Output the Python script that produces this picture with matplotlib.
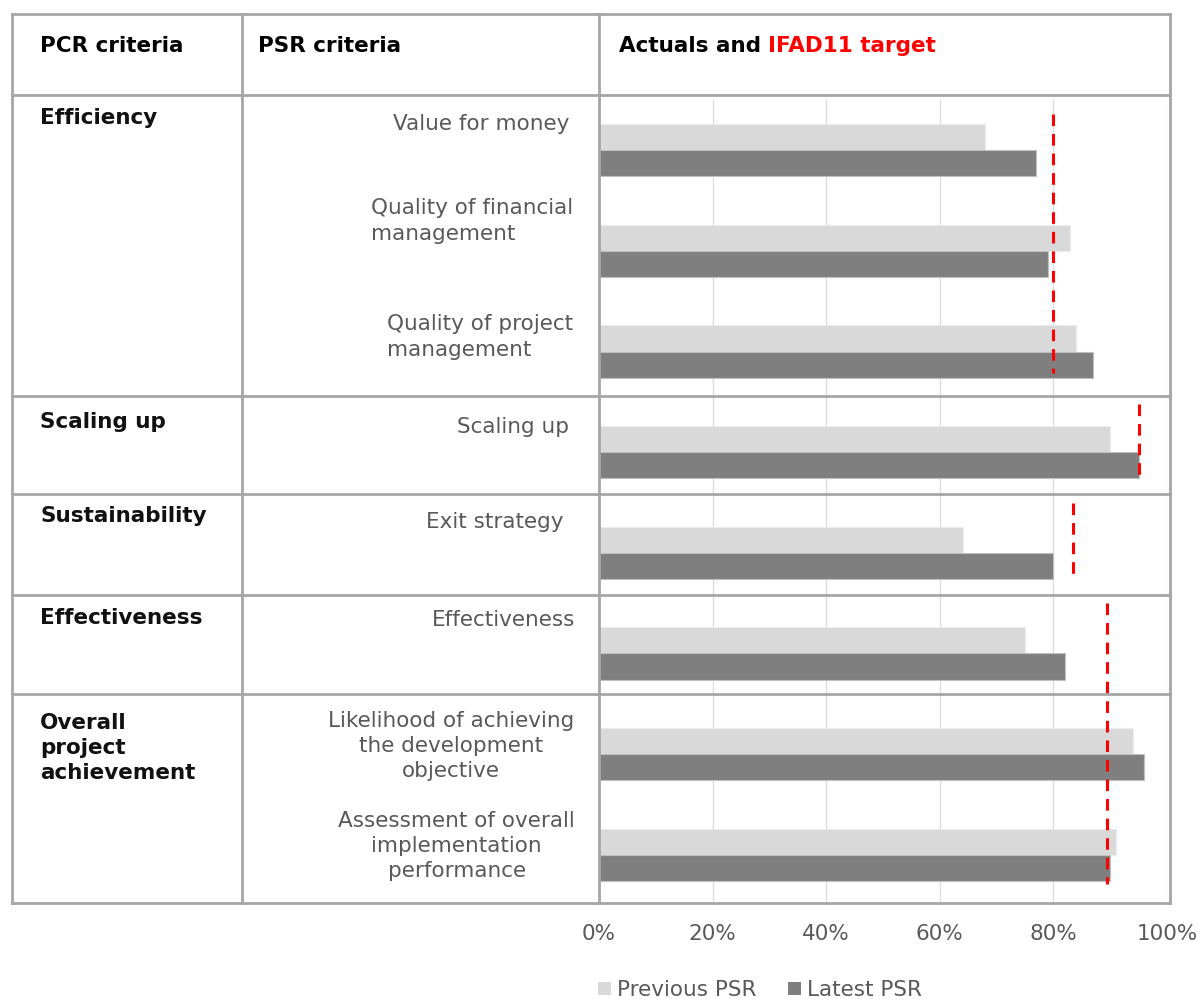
import matplotlib
matplotlib.use("Agg")
import matplotlib.pyplot as plt
from matplotlib.patches import Patch

plt.rcParams["font.family"] = ["DejaVu Sans"]

# PSR criteria, top to bottom
criteria = [
    "Value for money",
    "Quality of financial\nmanagement",
    "Quality of project\nmanagement",
    "Scaling up",
    "Exit strategy",
    "Effectiveness",
    "Likelihood of achieving\nthe development\nobjective",
    "Assessment of overall\nimplementation\nperformance",
]
previous_psr = [68, 83, 84, 90, 64, 75, 94, 91]
latest_psr = [77, 79, 87, 95, 80, 82, 96, 90]

# PCR groups
pcr_groups = ["Efficiency", "Scaling up", "Sustainability", "Effectiveness",
              "Overall\nproject\nachievement"]

# IFAD11 targets, each spanning a range of criteria
target_values = [80, 95, 83.5, 89.5]
target_first = [0, 3, 4, 5]
target_last = [2, 3, 4, 7]

xticks = [0, 20, 40, 60, 80, 100]

W, H = 1200, 1001
fig = plt.figure(figsize=(W / 100, H / 100), dpi=100)

GREY_TXT = "#595959"
LINE = "#a6a6a6"
FS = 15.5

# bar chart placed in the right-hand column (pixel layout)
ax_l, ax_r, ax_t, ax_b = 599, 1167, 100, 905
ax = fig.add_axes([ax_l / W, 1 - ax_b / H, (ax_r - ax_l) / W, (ax_b - ax_t) / H])
n = len(criteria)
idx = list(range(n))
h = 0.26
ax.barh([i - h / 2 for i in idx], previous_psr, height=h, color="#d9d9d9",
        edgecolor="#ececec", linewidth=0.8, zorder=2)
ax.barh([i + h / 2 for i in idx], latest_psr, height=h, color="#7f7f7f",
        edgecolor="#bfbfbf", linewidth=0.8, zorder=2)

# dashed target markers
top_off = [-0.36, -0.48, -0.5, -0.5]
bot_off = [0.21, 0.27, 0.25, 0.29]
for v, a, b, t0, b0 in zip(target_values, target_first, target_last, top_off, bot_off):
    ax.vlines(v, a + t0, b + b0, colors="#ff0000", linewidth=2.2,
              linestyles=(0, (3.8, 2.6)), zorder=3)

ax.set_xlim(0, 100)
ax.set_ylim(n - 0.5, -0.5)
ax.set_yticks([])
ax.set_xticks(xticks)
ax.set_xticklabels([f"{v}%" for v in xticks], fontsize=FS, color=GREY_TXT)
ax.tick_params(axis="x", length=0, pad=14)
ax.grid(axis="x", color="#dedede", linewidth=1.0, zorder=0)
for s in ax.spines.values():
    s.set_visible(False)

# table overlay in pixel coordinates
ov = fig.add_axes([0, 0, 1, 1], zorder=5)
ov.set_xlim(0, W)
ov.set_ylim(H, 0)
ov.axis("off")
ov.patch.set_alpha(0)

lw = 2.0
x_left, x_c1, x_c2, x_right = 12, 242, 599, 1170
y_top, y_head, y_bottom = 14, 95, 903
row_lines = [396, 494, 595, 694]
for x in (x_left, x_c1, x_c2, x_right):
    ov.plot([x, x], [y_top, y_bottom], color=LINE, lw=lw, solid_capstyle="projecting")
for y in [y_top, y_head] + row_lines + [y_bottom]:
    ov.plot([x_left, x_right], [y, y], color=LINE, lw=lw, solid_capstyle="projecting")

# header
hdr = dict(fontsize=FS, fontweight="bold", va="center", color="black")
ov.text(40, 46, "PCR criteria", **hdr)
ov.text(258, 46, "PSR criteria", **hdr)
t1 = ov.text(619, 46, "Actuals and ", **hdr)
ov.annotate("IFAD11 target", xy=(1, 0), xycoords=t1, va="bottom",
            fontsize=FS, fontweight="bold", color="#ff0000")

# PCR group labels
pcr_y = [118, 422, 516, 618, 748]
for name, y in zip(pcr_groups, pcr_y):
    ov.text(40, y, name, fontsize=FS, fontweight="bold", va="center",
            ha="left", color="#111111", linespacing=1.3)

# PSR criterion labels
lab_x = [569, 573, 573, 569, 564, 575, 574, 575]
lab_y = [124, 221, 337, 427, 522, 620, 746, 846]
lab_align = ["right", "left", "left", "right", "right", "right", "center", "center"]
for txt, x, y, al in zip(criteria, lab_x, lab_y, lab_align):
    ov.text(x, y, txt, fontsize=FS, color=GREY_TXT, ha="right", va="center",
            multialignment=al, linespacing=1.32)

handles = [Patch(facecolor="#d9d9d9", label="Previous PSR"),
           Patch(facecolor="#7f7f7f", label="Latest PSR")]
fig.legend(handles=handles, loc="center", bbox_to_anchor=(760 / W, 1 - 990 / H),
           ncol=2, frameon=False, fontsize=FS, handlelength=0.6, handleheight=0.6,
           handletextpad=0.25, columnspacing=1.5, labelcolor=GREY_TXT)

fig.savefig("out.png", dpi=100)
